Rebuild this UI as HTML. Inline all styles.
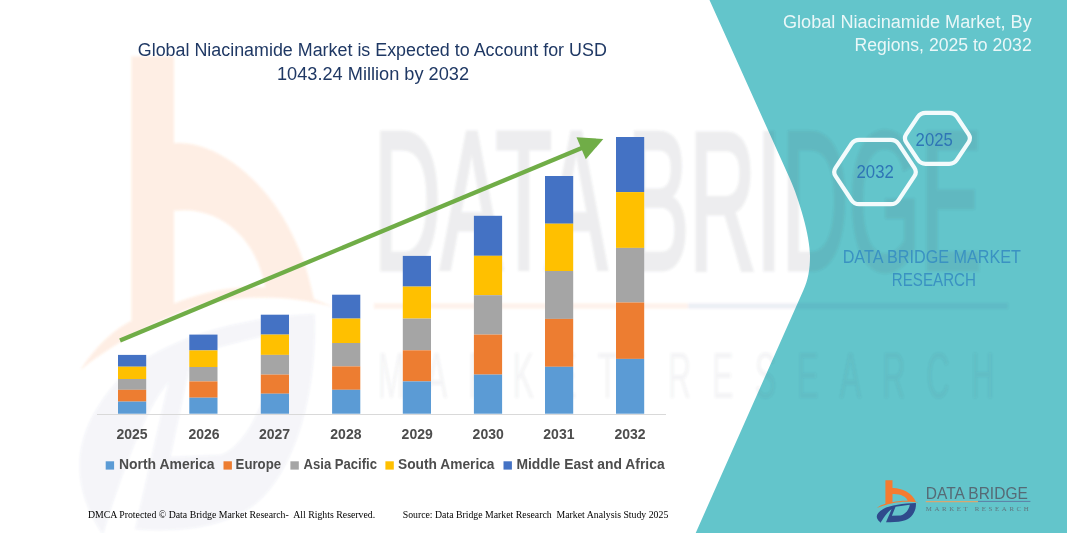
<!DOCTYPE html><html><head><meta charset="utf-8"><title>Global Niacinamide Market</title>
<style>html,body{margin:0;padding:0;background:#fff}body{width:1067px;height:533px;overflow:hidden}svg{display:block}text{white-space:pre}</style></head><body>
<svg width="1067" height="533" viewBox="0 0 1067 533">
<rect width="1067" height="533" fill="#fff"/>
<path fill="#63C5CB" d="M709.5,0 L1067,0 L1067,533 L695.7,533 L803.5,290 C808,280 810,270 810,256 C810,236 799,199 790,179 Z"/>
<defs><filter id="wb" x="-5%" y="-5%" width="110%" height="110%"><feGaussianBlur stdDeviation="1.3"/></filter></defs>
<g filter="url(#wb)"><g transform="translate(75,53) scale(6.000,11.300) translate(-876,-480)"><g transform="translate(870,474) scale(0.10135)" opacity="0.13"><path fill="#F47B30" fill-rule="evenodd" d="M152,62 L222,62 L222,138 C300,134 420,184 452,274 L484,281 C400,268 290,270 222,288 C160,302 110,318 68,336 C95,314 125,300 152,293 Z M222,197 C295,192 358,220 372,264 C320,262 270,268 222,278 Z"/></g></g><g transform="translate(75,53) scale(6.000,11.300) translate(-876,-480)"><g transform="translate(870,474) scale(0.10135)" opacity="0.055"><path fill="#2F4B8C" fill-rule="evenodd" d="M105,480 C55,440 45,395 130,345 C200,308 330,290 453,287 C458,345 430,412 370,446 C320,474 235,478 158,475 L213,347 C185,362 145,410 105,480 Z M216,412 L252,322 L392,303 C388,345 350,400 300,410 Z"/></g></g><g opacity="0.10"><text transform="translate(374,269) scale(1,1.96)" x="0" y="0" font-family="'Liberation Sans',sans-serif" font-size="100" fill="#4a5560" stroke="#4a5560" stroke-width="2.5" textLength="608" lengthAdjust="spacingAndGlyphs">DATA BRIDGE</text><rect x="374" y="303.5" width="314" height="5" fill="#F47B30"/><rect x="688" y="303.5" width="320" height="5" fill="#3b5f96"/></g><g opacity="0.06"><text transform="translate(378,398) scale(1,2.0)" x="0" y="0" font-family="'Liberation Sans',sans-serif" font-size="32" fill="#4a5560" textLength="616" lengthAdjust="spacing">MARKET RESEARCH</text></g></g>
<rect x="97" y="414" width="569" height="1" fill="#D9D9D9"/>
<rect x="118.0" y="354.9" width="28.2" height="11.8" fill="#4472C4"/>
<rect x="118.0" y="366.7" width="28.2" height="12.3" fill="#FFC000"/>
<rect x="118.0" y="379.0" width="28.2" height="10.8" fill="#A5A5A5"/>
<rect x="118.0" y="389.8" width="28.2" height="11.8" fill="#ED7D31"/>
<rect x="118.0" y="401.6" width="28.2" height="12.1" fill="#5B9BD5"/>
<rect x="189.3" y="334.6" width="28.2" height="15.8" fill="#4472C4"/>
<rect x="189.3" y="350.4" width="28.2" height="16.6" fill="#FFC000"/>
<rect x="189.3" y="367.0" width="28.2" height="14.4" fill="#A5A5A5"/>
<rect x="189.3" y="381.4" width="28.2" height="16.3" fill="#ED7D31"/>
<rect x="189.3" y="397.7" width="28.2" height="16.0" fill="#5B9BD5"/>
<rect x="260.8" y="314.7" width="28.2" height="19.9" fill="#4472C4"/>
<rect x="260.8" y="334.6" width="28.2" height="20.3" fill="#FFC000"/>
<rect x="260.8" y="354.9" width="28.2" height="19.7" fill="#A5A5A5"/>
<rect x="260.8" y="374.6" width="28.2" height="19.1" fill="#ED7D31"/>
<rect x="260.8" y="393.7" width="28.2" height="20.0" fill="#5B9BD5"/>
<rect x="332.1" y="294.7" width="28.2" height="23.9" fill="#4472C4"/>
<rect x="332.1" y="318.6" width="28.2" height="24.4" fill="#FFC000"/>
<rect x="332.1" y="343.0" width="28.2" height="23.4" fill="#A5A5A5"/>
<rect x="332.1" y="366.4" width="28.2" height="23.4" fill="#ED7D31"/>
<rect x="332.1" y="389.8" width="28.2" height="23.9" fill="#5B9BD5"/>
<rect x="402.8" y="255.9" width="28.2" height="30.7" fill="#4472C4"/>
<rect x="402.8" y="286.6" width="28.2" height="32.0" fill="#FFC000"/>
<rect x="402.8" y="318.6" width="28.2" height="31.7" fill="#A5A5A5"/>
<rect x="402.8" y="350.3" width="28.2" height="31.1" fill="#ED7D31"/>
<rect x="402.8" y="381.4" width="28.2" height="32.3" fill="#5B9BD5"/>
<rect x="473.9" y="215.8" width="28.2" height="40.0" fill="#4472C4"/>
<rect x="473.9" y="255.8" width="28.2" height="39.4" fill="#FFC000"/>
<rect x="473.9" y="295.2" width="28.2" height="39.4" fill="#A5A5A5"/>
<rect x="473.9" y="334.6" width="28.2" height="40.0" fill="#ED7D31"/>
<rect x="473.9" y="374.6" width="28.2" height="39.1" fill="#5B9BD5"/>
<rect x="545.0" y="176.0" width="28.2" height="47.7" fill="#4472C4"/>
<rect x="545.0" y="223.7" width="28.2" height="47.3" fill="#FFC000"/>
<rect x="545.0" y="271.0" width="28.2" height="47.9" fill="#A5A5A5"/>
<rect x="545.0" y="318.9" width="28.2" height="47.9" fill="#ED7D31"/>
<rect x="545.0" y="366.8" width="28.2" height="46.9" fill="#5B9BD5"/>
<rect x="616.0" y="137.0" width="28.2" height="55.1" fill="#4472C4"/>
<rect x="616.0" y="192.1" width="28.2" height="55.8" fill="#FFC000"/>
<rect x="616.0" y="247.9" width="28.2" height="54.6" fill="#A5A5A5"/>
<rect x="616.0" y="302.5" width="28.2" height="56.4" fill="#ED7D31"/>
<rect x="616.0" y="358.9" width="28.2" height="54.8" fill="#5B9BD5"/>
<line x1="120.0" y1="340.5" x2="583.0" y2="147.5" stroke="#70AD47" stroke-width="4.3"/>
<polygon fill="#70AD47" points="603.3,139.0 585.8,159.3 576.5,137.2"/>
<text x="137.8" y="56.2" font-family="'Liberation Sans',sans-serif" font-size="18" fill="#1F3864" textLength="469" lengthAdjust="spacingAndGlyphs">Global Niacinamide Market is Expected to Account for USD</text>
<text x="277" y="79.9" font-family="'Liberation Sans',sans-serif" font-size="18" fill="#1F3864" textLength="192" lengthAdjust="spacingAndGlyphs">1043.24 Million by 2032</text>
<text x="783" y="28" font-family="'Liberation Sans',sans-serif" font-size="18" fill="#EAF7F8" textLength="248.7" lengthAdjust="spacingAndGlyphs">Global Niacinamide Market, By</text>
<text x="854.5" y="51.2" font-family="'Liberation Sans',sans-serif" font-size="18" fill="#EAF7F8" textLength="177.2" lengthAdjust="spacingAndGlyphs">Regions, 2025 to 2032</text>
<path d="M835.57,176.16 Q832.80,172.00 835.57,167.84 L851.43,143.96 Q854.20,139.80 859.20,139.80 L890.80,139.80 Q895.80,139.80 898.57,143.96 L914.43,167.84 Q917.20,172.00 914.43,176.16 L898.57,200.04 Q895.80,204.20 890.80,204.20 L859.20,204.20 Q854.20,204.20 851.43,200.04 Z" fill="none" stroke="#F3FBFC" stroke-width="4.2" stroke-linejoin="round"/>
<path d="M906.28,142.45 Q903.50,138.30 906.28,134.15 L917.82,116.95 Q920.60,112.80 925.60,112.80 L949.20,112.80 Q954.20,112.80 956.98,116.95 L968.52,134.15 Q971.30,138.30 968.52,142.45 L956.98,159.65 Q954.20,163.80 949.20,163.80 L925.60,163.80 Q920.60,163.80 917.82,159.65 Z" fill="none" stroke="#F3FBFC" stroke-width="4.2" stroke-linejoin="round"/>
<text x="856.5" y="177.6" font-family="'Liberation Sans',sans-serif" font-size="17.6" fill="#2E75B6" textLength="37.3" lengthAdjust="spacingAndGlyphs">2032</text>
<text x="915.6" y="145.7" font-family="'Liberation Sans',sans-serif" font-size="17.6" fill="#2E75B6" textLength="37.2" lengthAdjust="spacingAndGlyphs">2025</text>
<text x="842.7" y="262.6" font-family="'Liberation Sans',sans-serif" font-size="18" fill="#3A92C2" textLength="178.3" lengthAdjust="spacingAndGlyphs">DATA BRIDGE MARKET</text>
<text x="891.8" y="286.1" font-family="'Liberation Sans',sans-serif" font-size="18" fill="#3A92C2" textLength="84.2" lengthAdjust="spacingAndGlyphs">RESEARCH</text>
<text x="132.1" y="438.8" font-family="'Liberation Sans',sans-serif" font-size="14" font-weight="bold" fill="#4d4d4d" text-anchor="middle">2025</text>
<text x="204.1" y="438.8" font-family="'Liberation Sans',sans-serif" font-size="14" font-weight="bold" fill="#4d4d4d" text-anchor="middle">2026</text>
<text x="274.6" y="438.8" font-family="'Liberation Sans',sans-serif" font-size="14" font-weight="bold" fill="#4d4d4d" text-anchor="middle">2027</text>
<text x="345.9" y="438.8" font-family="'Liberation Sans',sans-serif" font-size="14" font-weight="bold" fill="#4d4d4d" text-anchor="middle">2028</text>
<text x="417.2" y="438.8" font-family="'Liberation Sans',sans-serif" font-size="14" font-weight="bold" fill="#4d4d4d" text-anchor="middle">2029</text>
<text x="488.2" y="438.8" font-family="'Liberation Sans',sans-serif" font-size="14" font-weight="bold" fill="#4d4d4d" text-anchor="middle">2030</text>
<text x="558.9" y="438.8" font-family="'Liberation Sans',sans-serif" font-size="14" font-weight="bold" fill="#4d4d4d" text-anchor="middle">2031</text>
<text x="630.0" y="438.8" font-family="'Liberation Sans',sans-serif" font-size="14" font-weight="bold" fill="#4d4d4d" text-anchor="middle">2032</text>
<rect x="105.7" y="461.3" width="8.4" height="8.3" fill="#5B9BD5"/>
<text x="118.9" y="469.2" font-family="'Liberation Sans',sans-serif" font-size="14" font-weight="bold" fill="#4d4d4d" textLength="95.6" lengthAdjust="spacingAndGlyphs">North America</text>
<rect x="223.5" y="461.3" width="8.4" height="8.3" fill="#ED7D31"/>
<text x="235.6" y="469.2" font-family="'Liberation Sans',sans-serif" font-size="14" font-weight="bold" fill="#4d4d4d" textLength="45.5" lengthAdjust="spacingAndGlyphs">Europe</text>
<rect x="290.4" y="461.3" width="8.4" height="8.3" fill="#A5A5A5"/>
<text x="303.6" y="469.2" font-family="'Liberation Sans',sans-serif" font-size="14" font-weight="bold" fill="#4d4d4d" textLength="73.4" lengthAdjust="spacingAndGlyphs">Asia Pacific</text>
<rect x="385.4" y="461.3" width="8.4" height="8.3" fill="#FFC000"/>
<text x="398.0" y="469.2" font-family="'Liberation Sans',sans-serif" font-size="14" font-weight="bold" fill="#4d4d4d" textLength="96.5" lengthAdjust="spacingAndGlyphs">South America</text>
<rect x="503.5" y="461.3" width="8.4" height="8.3" fill="#4472C4"/>
<text x="516.4" y="469.2" font-family="'Liberation Sans',sans-serif" font-size="14" font-weight="bold" fill="#4d4d4d" textLength="148.2" lengthAdjust="spacingAndGlyphs">Middle East and Africa</text>
<text x="87.9" y="517.7" font-family="'Liberation Serif',serif" font-size="9.9" fill="#000" textLength="287.3" lengthAdjust="spacingAndGlyphs">DMCA Protected © Data Bridge Market Research-  All Rights Reserved.</text>
<text x="402.7" y="517.7" font-family="'Liberation Serif',serif" font-size="9.9" fill="#000" textLength="265.6" lengthAdjust="spacingAndGlyphs">Source: Data Bridge Market Research  Market Analysis Study 2025</text>
<g transform="translate(870,474) scale(0.10135)" opacity="1"><path fill="#F47B30" fill-rule="evenodd" d="M152,62 L222,62 L222,138 C300,134 420,184 452,274 L484,281 C400,268 290,270 222,288 C160,302 110,318 68,336 C95,314 125,300 152,293 Z M222,197 C295,192 358,220 372,264 C320,262 270,268 222,278 Z"/></g><g transform="translate(870,474) scale(0.10135)" opacity="1"><path fill="#2F4B8C" fill-rule="evenodd" d="M105,480 C55,440 45,395 130,345 C200,308 330,290 453,287 C458,345 430,412 370,446 C320,474 235,478 158,475 L213,347 C185,362 145,410 105,480 Z M216,412 L252,322 L392,303 C388,345 350,400 300,410 Z"/></g><g opacity="1"><text x="925.8" y="499.2" font-family="'Liberation Sans',sans-serif" font-size="17.2" fill="#566a75" textLength="102" lengthAdjust="spacingAndGlyphs">DATA BRIDGE</text><rect x="925.8" y="501.2" width="52.2" height="1" fill="#F4A15d"/><rect x="978" y="500.9" width="52.4" height="1" fill="#5b7fa6"/><text x="925.8" y="511.3" font-family="'Liberation Serif',serif" font-size="6.8" fill="#60757f" textLength="102.9" lengthAdjust="spacing">MARKET RESEARCH</text></g>
</svg></body></html>
